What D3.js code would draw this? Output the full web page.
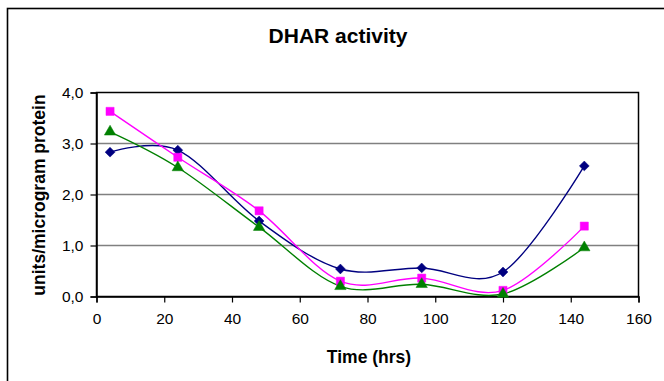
<!DOCTYPE html>
<html>
<head>
<meta charset="utf-8">
<script src="https://cdn.jsdelivr.net/npm/d3@7"></script>
<style>
  html, body { margin: 0; padding: 0; background: #fff; }
  svg { display: block; }
  text { font-family: "Liberation Sans", Arial, sans-serif; }
</style>
</head>
<body>
<svg id="chart" width="664" height="381"></svg>
<script>
// ---- Data ----
const hours = [4, 24, 48, 72, 96, 120, 144];
const seriesBlue  = [2.83, 2.87, 1.48, 0.54, 0.56, 0.48, 2.56];
const seriesPink  = [3.63, 2.73, 1.68, 0.30, 0.36, 0.12, 1.38];
const seriesGreen = [3.23, 2.53, 1.36, 0.20, 0.24, 0.05, 0.96];
const xTicks = [0, 20, 40, 60, 80, 100, 120, 140, 160];
const yTicks = [0, 1, 2, 3, 4];
const titleText = "DHAR activity";
const xLabel = "Time (hrs)";
const yLabel = "units/microgram protein";

const series = [
  { name: "blue",  values: seriesBlue,  color: "#000080", marker: d3.symbolDiamond2, size: 62 },
  { name: "pink",  values: seriesPink,  color: "#FF00FF", marker: d3.symbolSquare,   size: 66 },
  { name: "green", values: seriesGreen, color: "#008000", marker: d3.symbolTriangle, size: 56 }
];

// ---- Layout ----
const svg = d3.select("#chart");
const plot = { left: 96.5, right: 638.5, top: 92.5, bottom: 296.5 };

const x = d3.scaleLinear().domain([0, 160]).range([plot.left, plot.right]);
const y = d3.scaleLinear().domain([0, 4]).range([plot.bottom, plot.top]);

const locale = d3.formatLocale({ decimal: ",", thousands: ".", grouping: [3], currency: ["", ""] });
const fmt = locale.format(".1f");

// outer chart border
svg.append("rect")
  .attr("x", 7.5).attr("y", 8.5)
  .attr("width", 700).attr("height", 400)
  .attr("fill", "#fff").attr("stroke", "#000").attr("stroke-width", 1.6);

// title
svg.append("text")
  .attr("x", 338).attr("y", 43)
  .attr("text-anchor", "middle")
  .attr("font-size", 21).attr("font-weight", "bold")
  .text(titleText);

// gridlines
svg.append("g")
  .selectAll("line")
  .data(yTicks.filter(d => d > 0 && d < 4))
  .join("line")
  .attr("x1", plot.left).attr("x2", plot.right)
  .attr("y1", d => y(d)).attr("y2", d => y(d))
  .attr("stroke", "#808080").attr("stroke-width", 1.5);

// plot frame
svg.append("rect")
  .attr("x", plot.left).attr("y", plot.top)
  .attr("width", plot.right - plot.left).attr("height", plot.bottom - plot.top)
  .attr("fill", "none").attr("stroke", "#000").attr("stroke-width", 1.5);

// axes
const yAxis = d3.axisLeft(y).tickValues(yTicks).tickFormat(fmt).tickSize(6).tickPadding(7);
const gy = svg.append("g").attr("transform", `translate(${plot.left},0)`).call(yAxis);
gy.select(".domain").attr("stroke", "#000").attr("stroke-width", 1.5);
gy.selectAll(".tick line").attr("stroke", "#000").attr("stroke-width", 1.2);
gy.selectAll(".tick text").attr("font-size", 15.5).attr("fill", "#000")
  .attr("font-family", "Liberation Sans, Arial, sans-serif");

const xAxis = d3.axisBottom(x).tickValues(xTicks).tickFormat(d3.format("d")).tickSize(6).tickPadding(10);
const gx = svg.append("g").attr("transform", `translate(0,${plot.bottom})`).call(xAxis);
gx.select(".domain").attr("stroke", "#000").attr("stroke-width", 1.5);
gx.selectAll(".tick line").attr("stroke", "#000").attr("stroke-width", 1.2);
gx.selectAll(".tick text").attr("font-size", 15.5).attr("fill", "#000")
  .attr("font-family", "Liberation Sans, Arial, sans-serif");

// axis labels
svg.append("text")
  .attr("x", 369).attr("y", 363)
  .attr("text-anchor", "middle")
  .attr("font-size", 17.5).attr("font-weight", "bold")
  .text(xLabel);

svg.append("text")
  .attr("transform", `translate(45,195) rotate(-90)`)
  .attr("text-anchor", "middle")
  .attr("font-size", 17.5).attr("font-weight", "bold")
  .text(yLabel);

// lines
const line = d3.line()
  .x((d, i) => x(hours[i]))
  .y(d => y(d))
  .curve(d3.curveCardinal.tension(0));

const gSeries = svg.append("g");
series.forEach(s => {
  gSeries.append("path")
    .datum(s.values)
    .attr("d", line)
    .attr("fill", "none")
    .attr("stroke", s.color)
    .attr("stroke-width", 1.4);
});

// markers
series.forEach(s => {
  const sym = d3.symbol().type(s.marker).size(s.size);
  gSeries.append("g")
    .selectAll("path")
    .data(s.values)
    .join("path")
    .attr("transform", (d, i) => `translate(${x(hours[i])},${y(d)})`)
    .attr("d", sym)
    .attr("fill", s.color)
    .attr("stroke", s.color)
    .attr("stroke-width", 0.5);
});
</script>
</body>
</html>
